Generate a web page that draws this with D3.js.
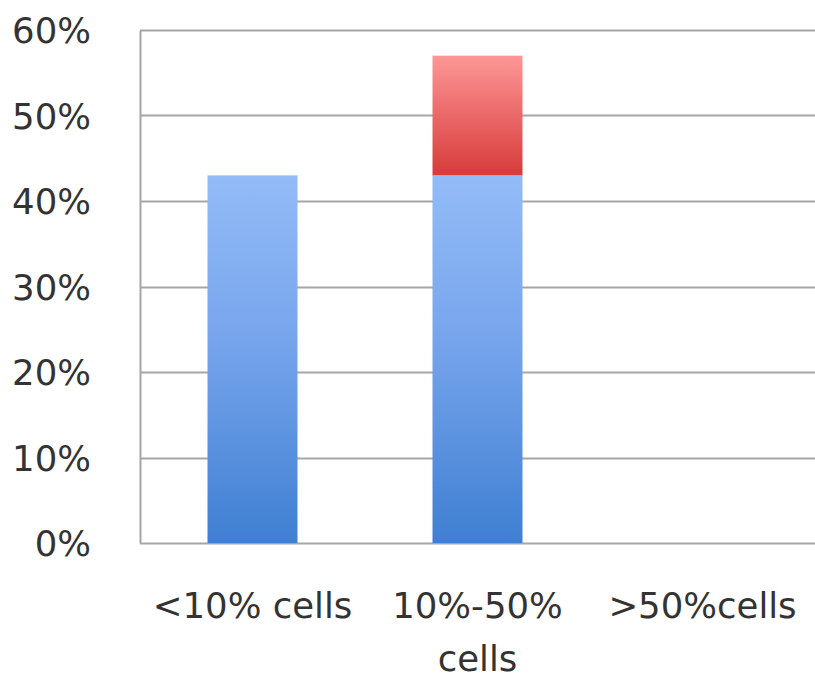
<!DOCTYPE html>
<html>
<head>
<meta charset="utf-8">
<script src="https://cdn.jsdelivr.net/npm/d3@7"></script>
<style>
  html, body { margin: 0; padding: 0; background: #fff; }
  svg text { font-family: "DejaVu Sans", "Open Sans", sans-serif; fill: #333; }
</style>
</head>
<body>
<svg id="chart" width="815" height="679"></svg>
<script>
// Chart data
const categories = ["<10% cells", "10%-50% cells", ">50%cells"];
const categoryLines = [["<10% cells"], ["10%-50%", "cells"], [">50%cells"]];
const baseValues = [43, 43, 0];      // blue segment (%)
const upperValues = [0, 14, 0];      // red segment stacked on top (%)
const yTicks = [0, 10, 20, 30, 40, 50, 60];

const svg = d3.select("#chart");
const margin = { left: 140, right: 0, top: 30, bottom: 136 };
const W = 815, H = 679;
const fontSize = 35.5;

const x = d3.scaleBand()
  .domain(categories)
  .range([margin.left, W - margin.right])
  .paddingInner(0.6)
  .paddingOuter(0.3);

const y = d3.scaleLinear()
  .domain([0, 60])
  .range([H - margin.bottom, margin.top]);

// Gradients
const defs = svg.append("defs");
const blue = defs.append("linearGradient").attr("id", "gBlue")
  .attr("x1", 0).attr("y1", 0).attr("x2", 0).attr("y2", 1);
blue.append("stop").attr("offset", "0%").attr("stop-color", "#93bbf7");
blue.append("stop").attr("offset", "45%").attr("stop-color", "#77a5ec");
blue.append("stop").attr("offset", "100%").attr("stop-color", "#3f7fd2");

const red = defs.append("linearGradient").attr("id", "gRed")
  .attr("x1", 0).attr("y1", 0).attr("x2", 0).attr("y2", 1);
red.append("stop").attr("offset", "0%").attr("stop-color", "#fd9797");
red.append("stop").attr("offset", "50%").attr("stop-color", "#eb6868");
red.append("stop").attr("offset", "100%").attr("stop-color", "#d63c3a");

// Gridlines
svg.append("g")
  .selectAll("line")
  .data(yTicks)
  .join("line")
  .attr("x1", margin.left)
  .attr("x2", W - margin.right)
  .attr("y1", d => Math.round(y(d)) + 0.5)
  .attr("y2", d => Math.round(y(d)) + 0.5)
  .attr("stroke", "#a6a6a6")
  .attr("stroke-width", 2);

// Y axis
const yAxis = d3.axisLeft(y)
  .tickValues(yTicks)
  .tickFormat(d => d + "%")
  .tickSize(0)
  .tickPadding(49);

const gy = svg.append("g")
  .attr("transform", `translate(${margin.left},0)`)
  .call(yAxis);
gy.select(".domain").attr("stroke", "#a6a6a6").attr("stroke-width", 2);
gy.selectAll("text")
  .attr("font-size", fontSize)
  .attr("dy", "0.36em")
  .style("font-family", "'DejaVu Sans', sans-serif")
  .attr("fill", "#333");

// Bars: blue base
svg.append("g")
  .selectAll("rect")
  .data(categories.map((c, i) => ({ c, v: baseValues[i] })).filter(d => d.v > 0))
  .join("rect")
  .attr("x", d => x(d.c))
  .attr("width", x.bandwidth())
  .attr("y", d => y(d.v))
  .attr("height", d => y(0) - y(d.v))
  .attr("fill", "url(#gBlue)");

// Bars: red upper segment
svg.append("g")
  .selectAll("rect")
  .data(categories.map((c, i) => ({ c, b: baseValues[i], v: upperValues[i] })).filter(d => d.v > 0))
  .join("rect")
  .attr("x", d => x(d.c))
  .attr("width", x.bandwidth())
  .attr("y", d => y(d.b + d.v))
  .attr("height", d => y(d.b) - y(d.b + d.v))
  .attr("fill", "url(#gRed)");

// Category labels
const gx = svg.append("g");
categories.forEach((c, i) => {
  const t = gx.append("text")
    .attr("x", x(c) + x.bandwidth() / 2)
    .attr("y", 618)
    .attr("text-anchor", "middle")
    .attr("font-size", fontSize);
  categoryLines[i].forEach((line, j) => {
    t.append("tspan")
      .attr("x", x(c) + x.bandwidth() / 2)
      .attr("dy", j === 0 ? 0 : 53)
      .text(line);
  });
});
</script>
</body>
</html>
